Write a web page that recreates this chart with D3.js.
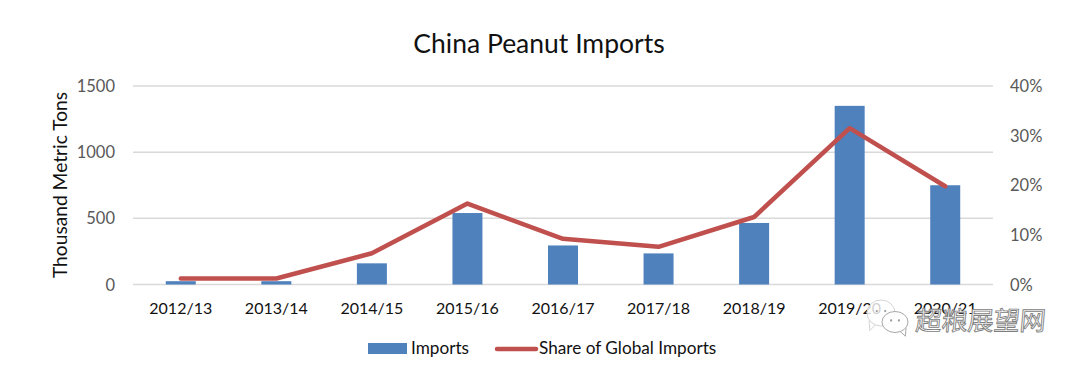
<!DOCTYPE html>
<html>
<head>
<meta charset="utf-8">
<script src="https://cdn.jsdelivr.net/npm/d3@7"></script>
<style>
  html, body { margin: 0; padding: 0; background: #fff; }
  text { font-family: Lato, "Open Sans", sans-serif; }
</style>
</head>
<body>
<div id="chart"></div>
<script>
const years = ["2012/13", "2013/14", "2014/15", "2015/16", "2016/17", "2017/18", "2018/19", "2019/20", "2020/21"];
const imports = [25, 25, 160, 540, 295, 235, 465, 1350, 750];
const share = [1.2, 1.2, 6.3, 16.3, 9.2, 7.6, 13.6, 31.5, 19.8];
const leftTicks = [0, 500, 1000, 1500];
const rightTicks = [0, 10, 20, 30, 40];

const width = 1080;
const height = 367;

const svg = d3.select('#chart')
    .append('svg')
    .attr('width', width)
    .attr('height', height)
    .style('display', 'block');

const x = d3.scaleBand().domain(years).range([133, 993]);
const y = d3.scaleLinear().domain([0, 1500]).range([284.5, 86]);
const y2 = d3.scaleLinear().domain([0, 40]).range([284.5, 86]);

svg.append('text')
    .attr('x', 539)
    .attr('y', 53)
    .attr('text-anchor', 'middle')
    .style('font-size', '26.5px')
    .style('fill', '#111')
    .text('China Peanut Imports');

// gridlines
svg.append('g').selectAll('line')
    .data(leftTicks)
    .join('line')
    .attr('x1', 133)
    .attr('x2', 993)
    .attr('y1', d => y(d))
    .attr('y2', d => y(d))
    .attr('stroke', '#d9d9d9')
    .attr('stroke-width', 1.5);

svg.append('g').selectAll('text')
    .data(leftTicks)
    .join('text')
    .attr('x', 115)
    .attr('y', d => y(d) + 6)
    .attr('text-anchor', 'end')
    .style('font-size', '16.5px')
    .style('fill', '#595959')
    .text(d => d);

svg.append('g').selectAll('text')
    .data(rightTicks)
    .join('text')
    .attr('x', 1010)
    .attr('y', d => y2(d) + 6)
    .style('font-size', '16.5px')
    .style('fill', '#595959')
    .text(d => d + '%');

svg.append('text')
    .attr('transform', 'translate(67,185) rotate(-90)')
    .attr('text-anchor', 'middle')
    .style('font-size', '19.2px')
    .style('fill', '#111')
    .text('Thousand Metric Tons');

svg.append('g').selectAll('rect')
    .data(years)
    .join('rect')
    .attr('x', d => x(d) + x.bandwidth() / 2 - 15)
    .attr('width', 30)
    .attr('y', (d, i) => y(imports[i]))
    .attr('height', (d, i) => y(0) - y(imports[i]))
    .attr('fill', '#4f81bd');

const line = d3.line()
    .x((d, i) => x(years[i]) + x.bandwidth() / 2)
    .y(d => y2(d));

svg.append('path')
    .datum(share)
    .attr('d', line)
    .attr('fill', 'none')
    .attr('stroke', '#c0504d')
    .attr('stroke-width', 4.5)
    .attr('stroke-linecap', 'round')
    .attr('stroke-linejoin', 'round');

svg.append('g').selectAll('text')
    .data(years)
    .join('text')
    .attr('x', d => x(d) + x.bandwidth() / 2)
    .attr('y', 314)
    .attr('text-anchor', 'middle')
    .style('font-size', '16px')
    .style('fill', '#111')
    .text(d => d);

// legend
svg.append('rect')
    .attr('x', 368).attr('y', 343).attr('width', 39).attr('height', 11)
    .attr('fill', '#4f81bd');
svg.append('text')
    .attr('x', 411).attr('y', 354)
    .style('font-size', '17.2px').style('fill', '#111')
    .text('Imports');
svg.append('line')
    .attr('x1', 497).attr('x2', 536).attr('y1', 349).attr('y2', 349)
    .attr('stroke', '#c0504d').attr('stroke-width', 4.5).attr('stroke-linecap', 'round');
svg.append('text')
    .attr('x', 539).attr('y', 354)
    .style('font-size', '17.2px').style('fill', '#111')
    .text('Share of Global Imports');

// watermark
const mark = svg.append('g');
const bubble = (cx, cy, rx, ry, tail, stroke) => {
    mark.append('path')
        .attr('d', `M${cx + tail * rx * 0.35},${cy + ry * 0.85} l${tail * rx * 0.45},${ry * 0.5} l${tail * rx * 0.05},-${ry * 0.8}`)
        .attr('fill', '#fff').attr('stroke', stroke).attr('stroke-width', 1);
    mark.append('ellipse')
        .attr('cx', cx).attr('cy', cy).attr('rx', rx).attr('ry', ry)
        .attr('fill', '#fff').attr('fill-opacity', 0.8)
        .attr('stroke', stroke).attr('stroke-width', 1);
    [-0.3, 0.3].forEach(k => {
        mark.append('circle')
            .attr('cx', cx + k * rx).attr('cy', cy - ry * 0.15).attr('r', 1.1)
            .attr('fill', '#999');
    });
};
bubble(881, 313, 14, 13, -1, '#d5d5d5');
bubble(895, 322, 13, 10.5, 1, '#a8a8a8');

mark.append('text')
    .attr('transform', 'translate(915,330) skewX(-5)')
    .style('font-family', '"Noto Sans CJK SC"')
    .style('font-size', '26px')
    .attr('fill', '#fff')
    .attr('stroke', '#808080')
    .attr('stroke-width', 0.9)
    .text('超粮展望网');
</script>
</body>
</html>
